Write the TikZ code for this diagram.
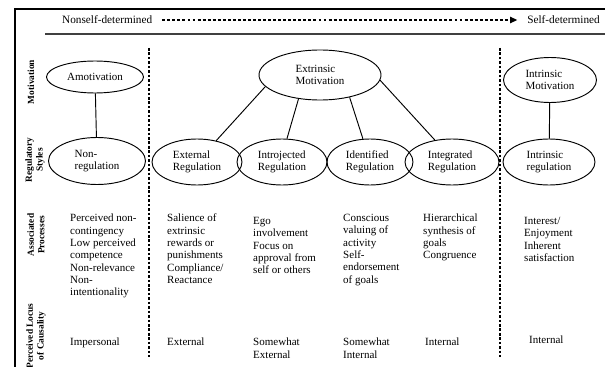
\documentclass[tikz,border=0pt]{standalone}
\usepackage{fontspec}
\setmainfont{Liberation Serif}
\usetikzlibrary{shapes.geometric,arrows.meta}
\tikzset{
  oval/.style={draw,ellipse,line width=0.8pt,inner sep=0pt,align=left,
    font=\fontsize{9.4}{10.5}\selectfont},
  txt/.style={anchor=north west,inner sep=0pt,align=left,
    font=\fontsize{9.4}{10.5}\selectfont},
  side/.style={rotate=90,align=center,inner sep=0pt,
    font=\fontsize{8}{9}\selectfont\bfseries},
  head/.style={inner xsep=8.5pt,inner ysep=0pt,font=\fontsize{9.6}{10.5}\selectfont},
  divider/.style={line width=0.9pt,dash pattern=on 2.2pt off 1.6pt},
}
\begin{document}
\begin{tikzpicture}[x=0.03cm,y=-0.03cm]
        \useasboundingbox (0,0) rectangle (608,367) ;
        % frame
        \draw[line width=1.2pt] (15,367) -- (15,9) -- (605,9) ;
        \draw[line width=1pt,black!75] (45,34) -- (605,34) ;
        % scale at the top
        \node[head,anchor=west] (nsd) at (52,20) {Nonself-determined} ;
        \node[head,anchor=east] (sd) at (610,20) {Self-determined} ;
        \draw[line width=0.9pt,dash pattern=on 2.5pt off 1.8pt,
          -{Triangle[length=6pt,width=5.5pt]}] (nsd.east) -- (sd.west) ;
        % row labels
        \node[side] (lmot) at (31,82) {Motivation} ;
        \node[side] (lreg) at (35,160) {Regulatory\\Styles} ;
        \node[side] (lproc) at (36,235) {Associated\\Processes} ;
        \node[side] (lloc) at (36,336) {Perceived Locus\\of Causality} ;
        % dotted dividers
        \draw[divider] (149,48) -- (149,357) ;
        \draw[divider] (500,48) -- (500,357) ;
        % motivation
        \node[oval,minimum width=2.91cm,minimum height=0.96cm] (amot) at (95,77) {Amotivation} ;
        \node[oval,minimum width=3.66cm,minimum height=1.5cm] (extmot) at (320,75)
          {Extrinsic\\Motivation\hspace{17pt}} ;
        \node[oval,minimum width=2.79cm,minimum height=1.35cm] (intrmot) at (550,80)
          {Intrinsic\\Motivation} ;
        % regulatory styles
        \node[oval,minimum width=2.91cm,minimum height=1.41cm] (nonreg) at (97,161) {Non-\\regulation} ;
        \node[oval,minimum width=2.7cm,minimum height=1.38cm] (extreg) at (197,162) {External\\Regulation} ;
        \node[oval,minimum width=2.7cm,minimum height=1.38cm] (introreg) at (282,162) {Introjected\\Regulation} ;
        \node[oval,minimum width=2.58cm,minimum height=1.38cm] (identreg) at (370,162) {Identified\\Regulation} ;
        \node[oval,minimum width=2.82cm,minimum height=1.38cm] (integreg) at (452,162) {Integrated\\Regulation} ;
        \node[oval,minimum width=2.76cm,minimum height=1.38cm] (intrreg) at (549,162) {Intrinsic\\regulation} ;
        \draw[line width=0.8pt] (amot) -- (nonreg) ;
        \draw[line width=0.8pt] (intrmot) -- (intrreg) ;
        \draw[line width=0.8pt] (extmot.192) -- (extreg.48) ;
        \draw[line width=0.8pt] (extmot.228) -- (introreg.78) ;
        \draw[line width=0.8pt] (extmot.323) -- (identreg.107) ;
        \draw[line width=0.8pt] (extmot.355) -- (integreg.128) ;
        % associated processes
        \node[txt] (proc1) at (70,214) {Perceived non-\\contingency\\Low perceived\\competence\\Non-relevance\\Non-\\intentionality} ;
        \node[txt] (proc2) at (167,214) {Salience of\\extrinsic\\rewards or\\punishments\\Compliance/\\Reactance} ;
        \node[txt] (proc3) at (253,217) {Ego\\involvement\\Focus on\\approval from\\self or others} ;
        \node[txt] (proc4) at (343,214) {Conscious\\valuing of\\activity\\Self-\\endorsement\\of goals} ;
        \node[txt] (proc5) at (423,214) {Hierarchical\\synthesis of\\goals\\Congruence} ;
        \node[txt] (proc6) at (524,217) {Interest/\\Enjoyment\\Inherent\\satisfaction} ;
        % perceived locus of causality
        \node[txt] (loc1) at (70,338) {Impersonal} ;
        \node[txt] (loc2) at (167,338) {External} ;
        \node[txt] (loc3) at (253,338) {Somewhat\\External} ;
        \node[txt] (loc4) at (343,338) {Somewhat\\Internal} ;
        \node[txt] (loc5) at (425,338) {Internal} ;
        \node[txt] (loc6) at (529,336) {Internal} ;
      \end{tikzpicture}
\end{document}
